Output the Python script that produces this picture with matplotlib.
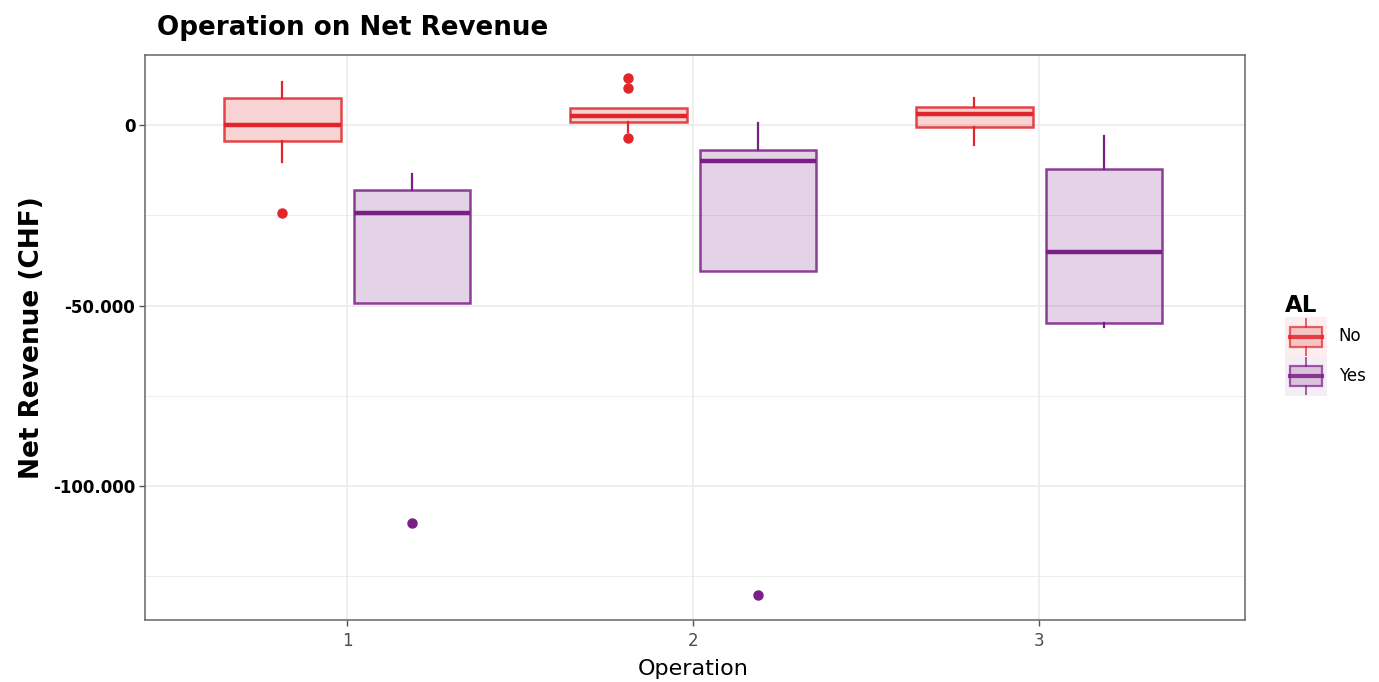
import matplotlib
matplotlib.use("Agg")
import matplotlib.pyplot as plt
from matplotlib.patches import Patch, Rectangle
from matplotlib.lines import Line2D
from matplotlib.legend_handler import HandlerBase

plt.rcParams['font.family'] = ['DejaVu Sans']

# data (box stats per operation)
operations = [1, 2, 3]
groups = ['No', 'Yes']
colors = {'No': '#E0262A', 'Yes': '#7A1F86'}

no_whislo = [-10200, -2000, -5500]
no_q1 = [-4350, 900, -500]
no_med = [0, 2500, 2950]
no_q3 = [7550, 4600, 4900]
no_whishi = [12000, 4600, 7400]
no_fliers = [[-24500], [12900, 10200, -3700], []]

yes_whislo = [-49400, -40400, -55900]
yes_q1 = [-49400, -40400, -54900]
yes_med = [-24300, -10000, -35300]
yes_q3 = [-18000, -6900, -12300]
yes_whishi = [-13600, 600, -3000]
yes_fliers = [[-110300], [-130200], []]

y_ticks = [0, -50000, -100000]
y_ticklabels = ['0', '-50.000', '-100.000']
y_minor = [-25000, -75000, -125000]


def make_stats(lo, q1, med, q3, hi, fl):
    return [dict(whislo=a, q1=b, med=c, q3=d, whishi=e, fliers=f)
            for a, b, c, d, e, f in zip(lo, q1, med, q3, hi, fl)]


stats = {
    'No': make_stats(no_whislo, no_q1, no_med, no_q3, no_whishi, no_fliers),
    'Yes': make_stats(yes_whislo, yes_q1, yes_med, yes_q3, yes_whishi, yes_fliers),
}

fig = plt.figure(figsize=(13.79, 6.82), dpi=100)
ax = fig.add_axes([145 / 1379, 1 - 620 / 682, 1100 / 1379, 565 / 682])

dodge = 0.1875
width = 0.3375
for k, g in enumerate(groups):
    c = colors[g]
    pos = [o + (-dodge if k == 0 else dodge) for o in operations]
    ax.bxp(stats[g], positions=pos, widths=width, patch_artist=True,
           showcaps=False, manage_ticks=False,
           boxprops=dict(facecolor=(c, 0.2), edgecolor=(c, 0.85), linewidth=1.8),
           medianprops=dict(color=c, linewidth=3.2, solid_capstyle='butt'),
           whiskerprops=dict(color=c, linewidth=1.6),
           flierprops=dict(marker='o', markerfacecolor=c, markeredgecolor=c,
                           markersize=6.5, linestyle='none'),
           zorder=3)

ax.set_xlim(0.416, 3.595)
ax.set_ylim(-137100, 19400)
ax.set_xticks(operations)
ax.set_xticklabels([str(o) for o in operations])
ax.set_yticks(y_ticks)
ax.set_yticklabels(y_ticklabels, fontweight='bold')
ax.set_yticks(y_minor, minor=True)
ax.tick_params(axis='y', which='minor', length=0)
ax.tick_params(axis='both', which='major', length=4, width=1, color='#555555')
ax.tick_params(axis='y', labelsize=12, labelcolor='black', pad=3)
ax.tick_params(axis='x', labelsize=12, labelcolor='#4d4d4d', pad=5)

ax.grid(which='major', color='#EBEBEB', linewidth=1.2, zorder=0)
ax.grid(which='minor', axis='y', color='#EBEBEB', linewidth=0.6, zorder=0)
ax.set_axisbelow(True)
for s in ax.spines.values():
    s.set_color('#666666')
    s.set_linewidth(1.1)

ax.set_xlabel('Operation', fontsize=16)
ax.xaxis.set_label_coords(0.498, -(659 - 620) / 565)
ax.set_ylabel('Net Revenue (CHF)', fontsize=19, fontweight='bold')
ax.yaxis.set_label_coords(-(145 - 45) / 1100, 0.5)

fig.text(157 / 1379, 1 - 28 / 682, 'Operation on Net Revenue', fontsize=18.8,
         fontweight='bold', va='center', ha='left')


class BoxKey(HandlerBase):
    def create_artists(self, legend, orig_handle, xd, yd, w, h, fontsize, trans):
        c = orig_handle.get_edgecolor()[:3]
        x0, y0 = -xd, -yd
        bg = Rectangle((x0, y0), w, h, facecolor=(c, 0.08), edgecolor='none', transform=trans)
        box = Rectangle((x0 + 0.12 * w, y0 + 0.25 * h), 0.76 * w, 0.5 * h,
                        facecolor=(c, 0.2), edgecolor=(c, 0.7), lw=1.6, transform=trans)
        med = Line2D([x0 + 0.12 * w, x0 + 0.88 * w], [y0 + 0.5 * h] * 2, color=(c, 0.85),
                     lw=3, transform=trans)
        wt = Line2D([x0 + 0.5 * w] * 2, [y0 + 0.75 * h, y0 + 0.95 * h], color=(c, 0.7),
                    lw=1.4, transform=trans)
        wb = Line2D([x0 + 0.5 * w] * 2, [y0 + 0.05 * h, y0 + 0.25 * h], color=(c, 0.7),
                    lw=1.4, transform=trans)
        return [bg, box, med, wt, wb]


handles = [Patch(facecolor=colors[g], edgecolor=colors[g]) for g in groups]
leg = fig.legend(handles, groups, handler_map={Patch: BoxKey()},
                 loc='center left', bbox_to_anchor=(1282 / 1379, 1 - 345 / 682),
                 frameon=False, fontsize=12, title='AL',
                 title_fontproperties={'weight': 'bold', 'size': 16.5},
                 handlelength=2.5, handleheight=3.3, labelspacing=0.0,
                 handletextpad=0.7, borderaxespad=0, borderpad=0.2)
leg._legend_box.align = 'left'

fig.savefig('out.png', dpi=100)
